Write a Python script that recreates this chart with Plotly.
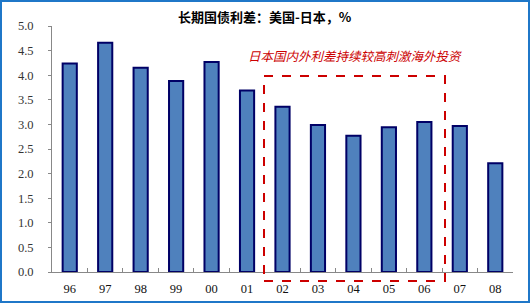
import plotly.graph_objects as go

years = ["96", "97", "98", "99", "00", "01", "02", "03", "04", "05", "06", "07", "08"]
spread = [4.24, 4.66, 4.15, 3.88, 4.27, 3.69, 3.36, 2.99, 2.77, 2.94, 3.05, 2.97, 2.21]
y_ticks = [0.0, 0.5, 1.0, 1.5, 2.0, 2.5, 3.0, 3.5, 4.0, 4.5, 5.0]
title_text = "长期国债利差：美国-日本，%"
note_text = "日本国内外利差持续较高刺激海外投资"

W, H = 530, 303
ml, mr, mt, mb = 52, 17, 26, 31
pw, ph = W - ml - mr, H - mt - mb

fig = go.Figure(go.Bar(
    x=years, y=spread, width=0.4,
    marker=dict(color="#4F81BD", line=dict(color="#000066", width=2)),
))

fig.update_layout(
    width=W, height=H,
    margin=dict(l=ml, r=mr, t=mt, b=mb, autoexpand=False),
    paper_bgcolor="white", plot_bgcolor="white",
    showlegend=False,
    font=dict(family="Liberation Serif", size=12, color="#222"),
    xaxis=dict(
        type="category", showline=True, linecolor="#888", linewidth=1,
        ticks="inside", tickson="boundaries", ticklen=4, tickcolor="#888",
        ticklabelstandoff=5, automargin=False,
        showgrid=False, tickfont=dict(family="Liberation Serif", size=12.5, color="#111"),
    ),
    yaxis=dict(
        range=[0, 5.0], tickvals=y_ticks, ticktext=[f"{v:.1f}" for v in y_ticks],
        showline=True, linecolor="#888", linewidth=1,
        ticks="outside", ticklen=3, tickcolor="#888", showgrid=False,
        ticklabelstandoff=12, automargin=False,
        zeroline=False, tickfont=dict(family="Liberation Serif", size=12.5, color="#333"),
    ),
    annotations=[
        dict(text="<b>" + title_text + "</b>", xref="paper", yref="paper",
             x=(265 - ml) / pw, y=1 + (mt - 17) / ph, xanchor="center", yanchor="middle",
             showarrow=False, font=dict(family="Noto Sans CJK SC", size=13, color="black")),
        dict(text="<i>" + note_text + "</i>", xref="paper", yref="paper",
             x=(355 - ml) / pw, y=1 - (55 - mt) / ph, xanchor="center", yanchor="middle",
             showarrow=False, font=dict(family="Noto Sans CJK SC", size=12.5, color="#CC0000")),
    ],
    shapes=[
        dict(type="rect", xref="paper", yref="paper",
             x0=(264 - ml) / pw, x1=(445 - ml) / pw,
             y0=1 - (281 - mt) / ph, y1=1 - (76 - mt) / ph,
             line=dict(color="#CC0000", width=2, dash="dash"), fillcolor="rgba(0,0,0,0)"),
        dict(type="rect", xref="paper", yref="paper",
             x0=(1 - ml) / pw, x1=(529 - ml) / pw,
             y0=1 - (302 - mt) / ph, y1=1 - (1 - mt) / ph,
             line=dict(color="#1F77C8", width=2), fillcolor="rgba(0,0,0,0)"),
    ],
)

fig.write_html("out.html")
